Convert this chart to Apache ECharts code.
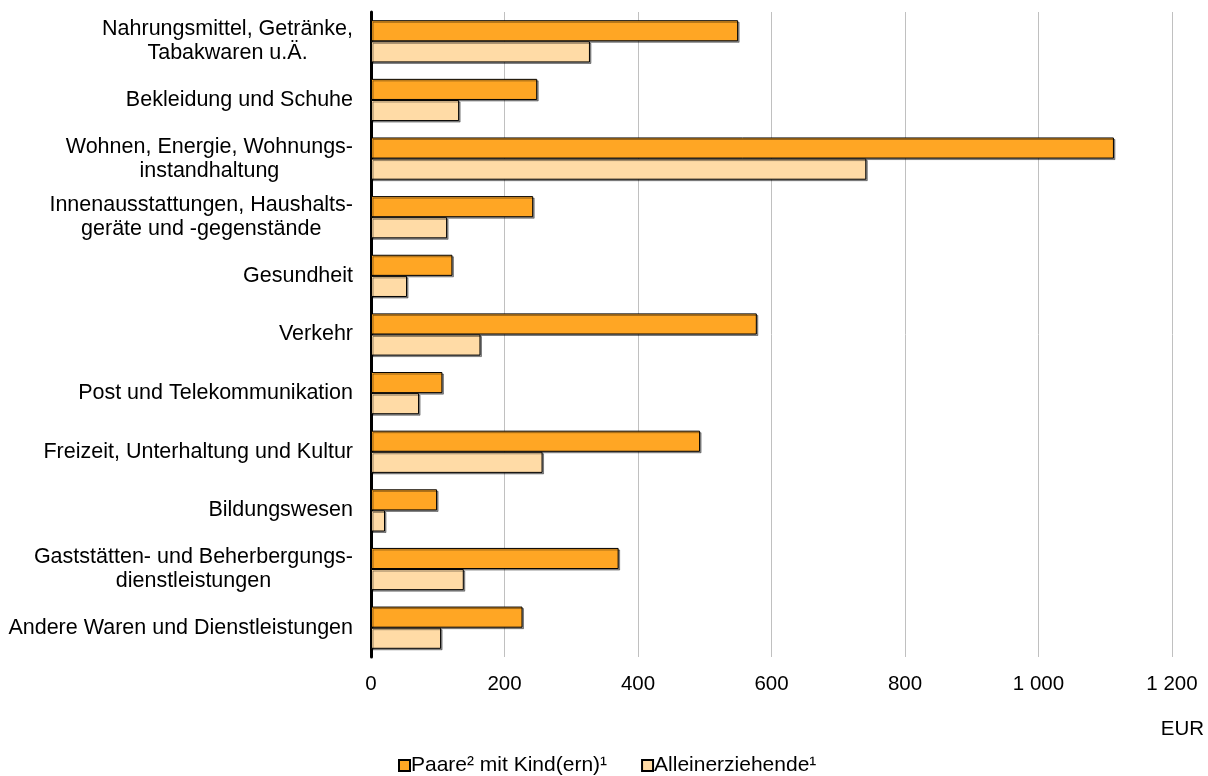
<!DOCTYPE html>
<html><head><meta charset="utf-8">
<script src="https://cdn.jsdelivr.net/npm/echarts@6/dist/echarts.min.js"></script>
<style>html,body{margin:0;padding:0;background:#fff}#c{width:1208px;height:776px}</style>
</head><body><div id="c"></div>
<script>
const categories = [
  "Nahrungsmittel, Getränke,\nTabakwaren u.Ä.",
  "Bekleidung und Schuhe",
  "Wohnen, Energie, Wohnungs-\ninstandhaltung",
  "Innenausstattungen, Haushalts-\ngeräte und -gegenstände",
  "Gesundheit",
  "Verkehr",
  "Post und Telekommunikation",
  "Freizeit, Unterhaltung und Kultur",
  "Bildungswesen",
  "Gaststätten- und Beherbergungs-\ndienstleistungen",
  "Andere Waren und Dienstleistungen"
];
const paare = [550, 249, 1113, 243, 122, 578, 107, 493, 99, 371, 227];
const allein = [328, 132, 742, 114, 54, 164, 72, 257, 21, 139, 105];
const seriesNames = ["Paare² mit Kind(ern)¹", "Alleinerziehende¹"];
const xTicks = {min: 0, max: 1200, interval: 200};
const unitLabel = "EUR";

const font = "Liberation Sans, Arial, sans-serif";
const chart = echarts.init(document.getElementById('c'));
const barStyle = (color) => ({
  color: color, borderColor: '#000', borderWidth: 1,
  shadowColor: 'rgba(0,0,0,0.4)', shadowOffsetX: 1.5, shadowOffsetY: 1.5, shadowBlur: 0
});
chart.setOption({
  animation: false,
  grid: {left: 371, right: 36, top: 12, bottom: 119, containLabel: false},
  legend: {
    top: 755, left: 398, padding: 0, itemWidth: 11, itemHeight: 11, itemGap: 34,
    icon: 'rect',
    textStyle: {fontFamily: font, fontSize: 21, color: '#000', padding: [0,0,0,-4]},
    data: seriesNames
  },
  graphic: [{
    type: 'text', right: 4, top: 719,
    style: {text: unitLabel, fontFamily: font, fontSize: 20.5, fill: '#000'}
  }],
  xAxis: {
    type: 'value', min: xTicks.min, max: xTicks.max, interval: xTicks.interval,
    axisLine: {show: false}, axisTick: {show: false},
    splitLine: {show: true, lineStyle: {color: '#c0c0c0', width: 1}},
    axisLabel: {
      fontFamily: font, fontSize: 20.5, color: '#000', margin: 17,
      formatter: v => v >= 1000 ? String(v).replace(/\B(?=(\d{3})+(?!\d))/g, ' ') : String(v)
    }
  },
  yAxis: {
    type: 'category', data: categories, inverse: true,
    axisLine: {show: true, lineStyle: {color: '#000', width: 3}},
    axisTick: {show: false},
    axisLabel: {
      fontFamily: font, fontSize: 21.5, color: '#000', margin: 18, lineHeight: 24,
      formatter: v => v.split('\n').map(l => '{c|' + l + '}').join('\n'),
      rich: {c: {align: 'center', fontFamily: font, fontSize: 21.5, color: '#000', lineHeight: 24}}
    }
  },
  series: [
    {name: seriesNames[0], type: 'bar', data: paare, barGap: '0%', barCategoryGap: '28%',
     itemStyle: barStyle('#FFA624')},
    {name: seriesNames[1], type: 'bar', data: allein, barGap: '0%', barCategoryGap: '28%',
     itemStyle: barStyle('#FFDBA6')}
  ]
});
</script></body></html>
